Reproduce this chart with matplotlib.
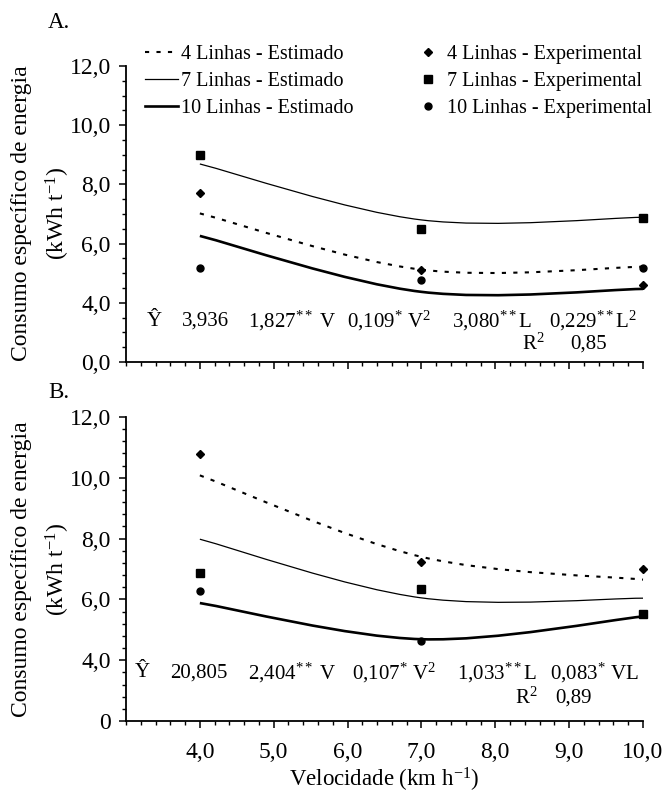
import matplotlib.pyplot as plt
import numpy as np
from matplotlib.lines import Line2D
from matplotlib.patches import PathPatch
from matplotlib.path import Path
from matplotlib.ticker import MultipleLocator

plt.rcParams['font.family'] = ['Liberation Serif', 'DejaVu Serif']
plt.rcParams['mathtext.fontset'] = 'custom'
plt.rcParams['mathtext.rm'] = 'Liberation Serif'
plt.rcParams['mathtext.it'] = 'Liberation Serif:italic'
plt.rcParams['mathtext.bf'] = 'Liberation Serif:bold'

velocidade = [4.0, 7.0, 10.0]
x_ticklabels = ["4,0", "5,0", "6,0", "7,0", "8,0", "9,0", "10,0"]
y_ticks = [2, 4, 6, 8, 10, 12]   # eixo quebrado: a primeira marca representa o zero
y_ticklabels_a = ["0,0", "4,0", "6,0", "8,0", "10,0", "12,0"]
y_ticklabels_b = ["0", "4,0", "6,0", "8,0", "10,0", "12,0"]

# A. estimado / experimental
est_a_4 = [7.02, 5.12, 5.22]
est_a_7 = [8.69, 6.80, 6.89]
est_a_10 = [6.26, 4.37, 4.47]
exp_a_4 = [7.70, 5.10, 4.60]
exp_a_7 = [9.00, 6.48, 6.88]
exp_a_10 = [5.18, 4.76, 5.16]

# B. estimado / experimental
est_b_4 = [10.08, 7.40, 6.65]
est_b_7 = [7.98, 6.05, 6.04]
est_b_10 = [5.88, 4.69, 5.44]
exp_b_4 = [10.77, 7.23, 7.00]
exp_b_7 = [6.87, 6.34, 5.53]
exp_b_10 = [6.28, 4.63, 5.53]

eq_a = ["\u0176", "3,936", "1,827$^{**}$ V", "0,109$^{*}$ V$^{2}$",
        "3,080$^{**}$L", "0,229$^{**}$L$^{2}$"]
eq_b = ["\u0176", "20,805", "2,404$^{**}$ V", "0,107$^{*}$ V$^{2}$",
        "1,033$^{**}$L", "0,083$^{*}$ VL"]
r2_a = "0,85"
r2_b = "0,89"

est_styles = {
    4: dict(lw=1.5, ls=(0, (2.0, 3.5))),
    7: dict(lw=0.9, ls='-'),
    10: dict(lw=1.9, ls='-'),
}
exp_styles = {
    4: dict(marker='D', ms=4.4),
    7: dict(marker='s', ms=5.2),
    10: dict(marker='o', ms=5.0),
}


def smooth_path(xs, ys):
    # curva suavizada (bezier) passando pelos pontos, como no grafico original
    pts = np.column_stack([xs, ys])
    n = len(pts)
    verts = [pts[0]]
    codes = [Path.MOVETO]
    for i in range(n - 1):
        p0 = pts[i - 1] if i > 0 else pts[i]
        p1, p2 = pts[i], pts[i + 1]
        p3 = pts[i + 2] if i + 2 < n else pts[i + 1]
        verts += [p1 + (p2 - p0) / 6, p2 - (p3 - p1) / 6, p2]
        codes += [Path.CURVE4] * 3
    return Path(verts, codes)


def draw_panel(ax, est, exp, ylabels, minor_y):
    for lin, ys in est.items():
        st = est_styles[lin]
        ax.add_patch(PathPatch(smooth_path(velocidade, ys), fill=False, color='black',
                               lw=st['lw'], ls=st['ls'], clip_on=False, capstyle='butt'))
    for lin, ys in exp.items():
        st = exp_styles[lin]
        ax.plot(velocidade, ys, ls='none', color='black', marker=st['marker'],
                ms=st['ms'], clip_on=False, zorder=3)

    ax.set_xlim(3, 10)
    ax.set_ylim(2, 12)
    for s in ('top', 'right'):
        ax.spines[s].set_visible(False)
    for s in ('left', 'bottom'):
        ax.spines[s].set_linewidth(1.3)
    ax.set_xticks(np.arange(4, 11))
    ax.set_xticklabels(x_ticklabels)
    ax.xaxis.set_minor_locator(MultipleLocator(0.2))
    ax.set_yticks(y_ticks)
    ax.set_yticklabels(ylabels)
    ax.yaxis.set_minor_locator(MultipleLocator(minor_y))
    ax.tick_params(axis='both', which='major', direction='out', length=5, width=1.1,
                   labelsize=17)
    ax.tick_params(axis='both', which='minor', direction='out', length=3.2, width=1.0)
    ax.tick_params(axis='x', which='major', pad=10)
    ax.tick_params(axis='y', which='major', pad=6)


def draw_equation(ax, terms, r2, y1, y2, xs, r2_x):
    for t, x in zip(terms, xs):
        ax.text(x, y1, t, fontsize=15, ha='left', va='center')
    ax.text(r2_x[0], y2, "R$^{2}$", fontsize=15, ha='left', va='center')
    ax.text(r2_x[1], y2, r2, fontsize=15, ha='left', va='center')


fig = plt.figure(figsize=(6.64, 7.95), dpi=100)
ax_a = fig.add_axes([126 / 664, 1 - 362 / 795, 517 / 664, 296 / 795])
ax_b = fig.add_axes([126 / 664, 1 - 721 / 795, 517 / 664, 304 / 795])

draw_panel(ax_a, {4: est_a_4, 7: est_a_7, 10: est_a_10},
           {4: exp_a_4, 7: exp_a_7, 10: exp_a_10}, y_ticklabels_a, 0.5)
draw_panel(ax_b, {4: est_b_4, 7: est_b_7, 10: est_b_10},
           {4: exp_b_4, 7: exp_b_7, 10: exp_b_10}, y_ticklabels_b, 0.4)
ax_a.tick_params(axis='x', labelbottom=False)

draw_equation(ax_a, eq_a, r2_a, 3.38, 2.6,
              [3.28, 3.76, 4.65, 5.99, 7.41, 8.73], (8.36, 9.01))
draw_equation(ax_b, eq_b, r2_b, 3.58, 2.75,
              [3.12, 3.60, 4.65, 6.06, 7.48, 8.74], (8.27, 8.81))

handles = [
    Line2D([], [], color='black', **est_styles[4]),
    Line2D([], [], color='black', **est_styles[7]),
    Line2D([], [], color='black', **est_styles[10]),
    Line2D([], [], color='black', ls='none', **exp_styles[4]),
    Line2D([], [], color='black', ls='none', **exp_styles[7]),
    Line2D([], [], color='black', ls='none', **exp_styles[10]),
]
labels = ["4 Linhas - Estimado", "7 Linhas - Estimado", "10 Linhas - Estimado",
          "4 Linhas - Experimental", "7 Linhas - Experimental", "10 Linhas - Experimental"]
fig.legend(handles, labels, loc='upper left', bbox_to_anchor=(145 / 664, 1 - 45 / 795),
           ncol=2, frameon=False, fontsize=14.5, handlelength=1.65, handletextpad=0.12,
           columnspacing=2.9, labelspacing=0.4, borderpad=0, borderaxespad=0, numpoints=1)

fig.text(48 / 664, 1 - 22 / 795, "A.", fontsize=16.5, ha='left', va='center')
fig.text(48 / 664, 1 - 393 / 795, "B.", fontsize=16.5, ha='left', va='center')

for yc in (213, 569):
    fig.text(22 / 664, 1 - yc / 795, "Consumo específico de energia", fontsize=17,
             rotation=90, ha='center', va='center')
    fig.text(58 / 664, 1 - yc / 795, "(kWh t$^{-1}$)", fontsize=17,
             rotation=90, ha='center', va='center')

fig.text(384 / 664, 1 - 780 / 795, "Velocidade (km h$^{-1}$)", fontsize=16.5,
         ha='center', va='center')

fig.savefig('out.png', dpi=100)
